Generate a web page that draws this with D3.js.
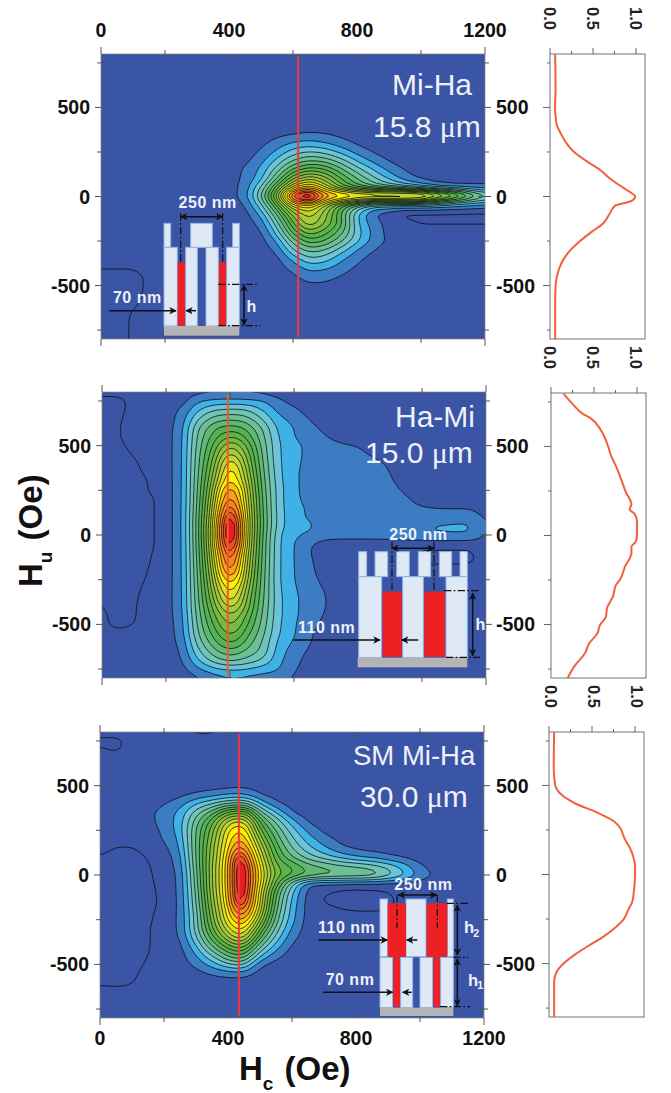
<!DOCTYPE html>
<html><head><meta charset="utf-8">
<script src="https://cdn.jsdelivr.net/npm/d3@7"></script>
<style>html,body{margin:0;padding:0;background:#fff}svg{display:block}text{font-family:"Liberation Sans",Arial,sans-serif}</style>
</head><body><svg id="c" width="671" height="1093"></svg>
<script>
// Columns: Hc = 0 to 1200 in steps of 50. Rows that stop early continue at the background level 1.
const colHc = [0,50,100,150,200,250,300,350,400,450,500,550,600,650,700,750,800,850,900,950,1000,1050,1100,1150,1200];
const rowHu = [800,750,700,650,600,550,500,450,400,350,300,250,200,150,100,50,0,-50,-100,-150,-200,-250,-300,-350,-400,-450,-500,-550,-600,-650,-700,-750,-800];
const rowHuMiHa = [800,750,700,650,600,550,500,450,400,350,300,250,200,150,100,50,25,0,-25,-50,-100,-150,-200,-250,-300,-350,-400,-450,-500,-550,-600,-650,-700,-750,-800];
const gridMiHa = [
[],[],[],[],[],
[1,1,1,1,1,1,1,1,1,1,.1],
[],[],[],
[1,1,1,1,1,1,1,1,1,1,1,1.2,1.4,1.6,1.5,1.2],
[1,1,1,1,1,1,1,1,1,1,1.2,1.9,2.6,2.9,2.5,1.9,1.3],
[1,1,1,1,1,1,1,1,1,1,1.6,2.7,4,4.6,4.2,3.2,2.1,1.4],
[1,1,1,1,1,1,1,1,1,1.2,2.1,3.8,5.6,6.6,6.2,5,3.4,2.2,1.4],
[1,1,1,1,1,1,1,1,1,1.6,2.7,5,7.8,9.3,8.7,6.8,5,3.5,2.2,1.4],
[.2,1,1,1,1,1,1,1,1,1.7,3,6.5,10.5,12.6,11,8.5,6.5,4.8,3.3,2,1.3],
[1,1,1,1,1,1,1,1,1.1,1.8,4.5,9,14,16.5,13.5,10,8,6.5,5.5,4.5,3.5,2.2,1.8,1.7,1.7],
[1,1,1,1,1,1,1,1,1.1,1.85,5,10,17.5,20.8,16,14.8,13.5,13.2,13,13,12.5,11,9,6.5,4.5],
[1,1,1,1,1,1,1,1,1.1,1.9,5.5,11,20.6,22,18,16.5,15.8,15.6,15.8,15.7,15.5,13,11,8.5,6],
[1,1,1,1,1,1,1,1,1,1.6,4.7,9.8,17,20,15,13,11.5,10.5,10.5,10.5,10,8,6.5,5,4],
[1,1,1,1,1,1,1,1,1,1.3,4,8.5,14,15.5,12,8.5,5.5,3.5,3,3,3,2.8,2.5,2.2,2],
[1,1,1,1,1,1,1,1,1,1,2.6,6.5,11,13.2,11,7.5,3.5,1.4,.9,.1,.2,.2,.2,.2,.2],
[1,1,1,1,1,1,1,1,1,1,1.7,5,9.5,12.6,10.5,8,3.5,2,1.1,.9,.4,.4,.4,.4,.4],
[1,1,1,1,1,1,1,1,1,1,1.2,3.8,8,10.3,9,7,4,2.2,1.1],
[1,1,1,1,1,1,1,1,1,1,1,2.5,6,8.2,7.5,5.7,3.7,2.1,1.3,1,1,1,.1],
[1,1,1,1,1,1,1,1,1,1,1,1.6,4.5,6,5.5,4,2.4,1.5],
[1,1,1,1,1,1,1,1,1,1,1,1.1,2.8,4.4,4,2.7,1.7,1.1],
[.6,.6,.6,1,1,1,1,1,1,1,1,1,1.8,2.9,2.7,2,1.3],
[0,0,0,.8,1,1,1,1,1,1,1,1,1.2,2,1.8,1.4],
[0,0,0,.8,1,1,1,1,1,1,1,1,1,1.3,1.3,1.1,1,1,1,1,1,1,1,.1],
[0,0,0,.9],
[0,0,.2,1],
[0,0,.6,1,1,1,1,1,1,1,1,1,1,1,1,1,1,1,1,1,1,1,1,.1],
[0,0,.7],[0,0,.7],[0,0,.7]
];
const gridHaMi = [
[1,1,1,1,1,1,1.2,1.3,1.3,1.3,1.2],
[0,0,1,1,1,1,2.4,2.7,2.8,2.7,2.6,1.7,1.1],
[0,.1,1,1,1,1.6,3.4,4.5,4.7,4.6,3.5,2.2,1.7],
[0,.3,1,1,1,1.9,4.5,6,6.3,6,4.5,2.7,2.2,1.4],
[0,.4,1,1,1,2.1,5.5,7.3,8,7.4,5.5,3.2,2.5,1.7,1.3],
[0,.4,1,1,1,2.2,5.8,8,9.5,8.3,5.9,3.4,2.5,1.9,1.5,1.2],
[0,.2,.9,1,1,2.2,6,8.7,11.5,9.5,6.2,3.5,2.8,2.2,1.8,1.6,1.5,1.1],
[0,0,.6,1,1,2.2,6.2,9.3,13,10.5,6.4,3.5,2.8,2.2,2,1.9,1.7,1.4,1.1],
[0,0,.3,1,1,2.2,6.3,9.9,14.5,11,6.6,3.6,2.7,2.2,2.1,2,1.9,1.7,1.4],
[0,0,.2,.8,1,2.2,6.4,10.5,15.3,11.7,6.8,3.7,2.6,2.2,2.1,2,2,1.8,1.5,1.1],
[0,0,0,.6,1,2.2,6.5,11.2,16,12.3,7,3.8,2.6,2.2,2.1,2,2,1.9,1.6,1.2],
[0,0,0,.6,1,2.2,6.6,11.8,17,12.8,7.2,3.9,2.6,2.2,2.1,2,2,1.9,1.7,1.4,1.1],
[0,0,0,.3,1,2.2,6.7,12.4,17.8,13.2,7.4,3.9,2.6,2.3,2.1,2,2,1.9,1.8,1.6,1.2,1.1],
[0,0,0,.3,1,2.2,6.8,12.9,19.5,13.5,7.5,3.9,2.7,2.4,2.1,1.9,1.1,1.9,1.9,1.8,1.55,1.45,1.45,1.45],
[0,0,0,.3,1,2.2,7,13.3,20.7,13.7,7.6,4,2.7,2.4,2.2,2.1,2.1,2,2,2,2,2,2,2.1,1.3],
[0,0,0,.3,1,2.2,7,13.7,21.5,13.8,7.7,3.9,2.8,2.6,2.2,2.1,2.1,2.1,2.1,2.2,2.45,2.6,2.7,2.7,1.4],
[0,0,0,.3,1,2.2,7,13.9,21.5,13.7,7.5,3.6,2.6,2.4,2.1,2,2,2,2.1,2.2,2.3,2.45,2.45,2.45,1.3],
[0,0,0,.3,1,2.2,6.9,13.7,20.6,13.5,7.4,3.5,2.5,1.6,.9,.9,.9,.9,.9,.9,.9,.9,.9,.9],
[0,0,0,.4,1,2.2,6.8,13.3,20,13.1,7.3,3.5,2.5,1.45,1,1,1,1,1,1,.3,.3,.3,.3],
[0,0,0,.5,1,2.2,6.7,12.9,19,12.7,7.2,3.5,2.5,1.6,1,1,1,1,1,1,.3,.3,.3,.3],
[0,0,0,.6,1,2.2,6.6,12.4,18,12.3,7.1,3.5,2.5,1.7],
[0,0,.1,.7,1,2.2,6.5,11.8,16,11.8,7,3.5,2.5,1.8,1.2],
[0,0,.2,.9,1,2.2,6.4,11.3,15,11.2,6.9,3.6,2.6,1.9,1.4],
[.4,0,.3,1,1,2.2,6.3,10.7,14.3,10.6,6.8,3.7,2.7,2,1.5],
[.6,0,.4,1,1,2.2,6.2,10,13,10.3,6.6,3.7,2.7,2,1.5],
[.8,0,.4,1,1,2.1,6,9.3,11.5,9.5,6.4,3.7,2.7,1.9,1.4],
[.8,.1,.5,1,1,2,5.8,8.7,10.8,8.8,6.2,3.6,2.6,1.8,1.2],
[1,.8,1,1,1,1.9,5.5,8,9.8,8,5.9,3.5,2.6,1.6],
[1,1,1,1,1,1.7,5,7.2,8.7,7.2,5.5,3.2,2.4,1.5],
[1,1,1,1,1,1.5,4.3,6.2,7.3,6.3,5.3,3,2,1.3],
[1,1,1,1,1,1.3,3.5,5,5.8,5.2,4.5,2.8,1.8,1.1],
[1,1,1,1,1,1.1,2.3,3.3,3.6,3.5,3,2.6,1.6],
[1,1,1,1,1,1,1.3,1.9,2.3,2.2,2,2,1.3]
];
// extra columns along the narrow ridge of the second panel
const haMiCol375 = [1.3,2.8,4.6,6.2,7.8,9,10.5,11.8,13,13.8,14.5,16.4,17.2,18,19.3,20,20,19.6,18.2,17.4,16.7,15.6,14.2,13.2,12,10.8,10,9.2,8.2,6.9,5.5,3.5,2.2];
const haMiCol425 = [1.3,2.8,4.7,6.2,7.8,9.3,11,12.2,13.7,14.5,15,16.8,17.4,18.2,19.5,20.3,20.3,19.8,18.2,17.4,16.8,15.8,14.5,13.5,12.2,10.9,10.2,9.4,8.4,7,5.6,3.6,2.3];
const gridSM = [
[1,1,1,1,1,1,.3,.3],
[.2,.1],
[.7,.3],
[],[],[],
[1,1,1,1,1,1,1,1,1.1,1.2,1.05],
[1,1,1,1,1,1.2,1.6,2,2.4,2.4,1.4,1.05],
[1,1,1,1,1.4,2,3.4,4.4,5.5,5.8,3.2,1.6,1.05],
[1,1,1,1.2,1.9,2.7,5,7,10,10.5,5.8,3.4,1.4,1.05],
[1,1,1,1.2,1.9,2.9,6,9,13,13.8,8,5.3,2.8,1.3,1,1,1,1,1,1,1,1,.1],
[1,1,1,1,1.7,2.9,6.5,10,14.5,15.5,9.5,6.4,3.9,2.2,1.2],
[1,1,1,1,1.5,2.6,6.6,10.5,15,16.5,11,7.2,4.7,3,1.9,1.2],
[1,.4,.4,1,1.2,2.3,6.6,11,15.3,18,12.5,8,5.5,3.8,2.7,1.7,1.3,1.1],
[.4,0,0,.6,1,2,6.5,11.2,15.6,20,13.5,8.7,6.5,5,4,3.2,2.5,2.2,1.7,1.3],
[0,0,0,.4,1,1.7,6.3,11.5,16,21.3,14.5,9.5,8.5,7,6.4,5.8,5.5,5,4.2,3,1.6,1.1],
[0,0,0,.3,1,1.5,6,11.5,16,21.5,14.8,10,8.6,7.5,7,6.8,6.7,6.4,5.2,3.8,2.1,1.3],
[0,0,0,.2,.95,1.5,5.8,11.5,16,21.5,14.5,9,4.5,1.4,1.2,1.1],
[0,0,0,.1,.9,1.5,5.5,11.3,15.8,21.3,13.8,7.5,3.5,1.1,.55,.3,.2,.3,.4],
[0,0,0,.1,.8,1.5,5.3,11,15.5,20.5,13.5,7,3.1,1,.4,.1,.1,.1,.1],
[0,0,0,.2,.9,1.5,5,10.5,15,19,13,6.4,2.9,1,1,.6,.45,.45,.5],
[0,0,0,.3,1,1.5,4.8,10,14.6,17,11.5,5.8,2.7],
[0,0,0,.4,1,1.5,4.8,9.3,13.3,15,9.5,5,2.2],
[0,0,0,.4,1,1.3,4.3,8,11.5,13,7.5,4,1.7],
[0,0,0,.4,1,1.1,3.2,6.5,9,10,5.5,2.9,1.2],
[0,0,0,.5,1,1,2.4,4.5,6.8,7.5,3.5,1.8],
[0,0,0,.7,1,1,1.7,2.9,4.3,4.8,1.6,1.05],
[0,0,.2,1,1,1,1.1,1.6,1.9,2],
[.2,.2,.4],
[1,.8,.8],
[],[],[]
];
// extra columns along the narrow ridge of the third panel
const smCol425 = [1,1,1,1,1,1,1.2,2.5,5.8,10.2,13.8,15.6,16.5,18,20.6,21.2,21.2,21.2,21,20.6,18.5,16.5,14.8,13,10,7.5,4.8,2,1,1,1,1,1];
const smCol475 = [1,1,1,1,1,1,1.1,2,4.8,8.5,11.5,13,14.2,15.3,16.5,17.5,18,18,17.5,17,16,14.5,12.5,10.5,7.8,5.5,3,1.4,1,1,1,1,1];

const levels = [.5,1.5,2.5,3.5,4.5,5.5,6.5,7.5,8.5,9.5,10.5,11.5,12.5,13.5,14.5,15.5,16.5,17.5,18.5,19.2,20];
const levelColors = ["#3a55a5","#3b7cc2","#3fb1e6","#6bc4d8","#6fc4b8","#6dbf95","#60b972","#53b254","#5db348","#76ba43","#8fc23f","#a6cb3a","#bed534","#e3e021","#fff200","#fdc010","#f9a01b","#f68420","#f36a21","#f04e23","#ed1c24"];
const cutHc = [616,393,434];
const cutColor = ["#ee3a3a","#f0582e","#ee3a3a"];

const sideHu1 = [800,600,500,450,400,350,300,250,200,150,100,50,25,0,-25,-50,-100,-150,-200,-250,-300,-350,-400,-450,-500,-600,-800];
const sideI1 = [.06,.065,.058,.065,.08,.13,.19,.28,.42,.58,.70,.85,.93,.99,.95,.76,.69,.62,.48,.35,.24,.16,.11,.08,.065,.06,.06];
const sideHu2 = [795,739,683,655,599,500,459,384,310,244,175,146,123,77,0,-35,-63,-100,-175,-250,-278,-343,-409,-455,-502,-549,-605,-661,-735,-800];
const sideI2 = [.146,.25,.37,.47,.57,.665,.69,.76,.82,.87,.935,.915,.97,1,1,.985,.935,.935,.86,.80,.755,.72,.65,.64,.57,.54,.445,.395,.27,.195];
const sideHu3 = [800,600,500,450,400,350,300,270,200,150,100,50,0,-100,-150,-200,-250,-300,-350,-400,-450,-500,-550,-600,-800];
const sideI3 = [.06,.055,.073,.14,.30,.55,.75,.815,.88,.94,.98,1,1,.985,.97,.92,.87,.765,.63,.46,.30,.17,.085,.06,.06];

const hcTicks = [0,200,400,600,800,1000,1200];
const hcLabels = [0,400,800,1200];
const huTicks = [-750,-500,-250,0,250,500,750];
const huLabels = [-500,0,500];
const sideTicks = [0,.25,.5,.75,1];
const sideLabels = ["0.0","0.5","1.0"];

const panels = [
 {grid:gridMiHa,rows:rowHuMiHa,extra:[],x:[101,485],y:[54,339],sx:[550,636,645],hu:sideHu1,i:sideI1,sy:[54,339]},
 {grid:gridHaMi,rows:rowHu,extra:[[375,haMiCol375],[425,haMiCol425]],x:[102,486],y:[392,678],sx:[551,637,646],hu:sideHu2,i:sideI2,sy:[393,678]},
 {grid:gridSM,rows:rowHu,extra:[[425,smCol425],[475,smCol475]],x:[100,484],y:[732,1018],sx:[549,635,644],hu:sideHu3,i:sideI3,sy:[732,1017]}
];
const svg = d3.select("#c");
const defs = svg.append("defs");
const TICK="#555";
const STEP=12.5, mx=97, my=129; // rendering mesh for the contour generator

// value of the read-off table at any (Hc, Hu), between its rows and columns
function sampler(p){
  const cols=colHc.concat(p.extra.map(e=>e[0])).sort(d3.ascending);
  const rowsAsc=p.rows.slice().reverse();
  const val=(r,c)=>{
    const e=p.extra.find(e=>e[0]===c); if(e) return e[1][r];
    const row=p.grid[r], i=colHc.indexOf(c); return i<row.length?row[i]:1;
  };
  return (hc,hu)=>{
    let ci=Math.min(d3.bisectRight(cols,hc),cols.length-1), ri=Math.min(d3.bisectRight(rowsAsc,hu),rowsAsc.length-1);
    const c0=cols[ci-1],c1=cols[ci],r0=rowsAsc[ri-1],r1=rowsAsc[ri];
    const tx=(hc-c0)/(c1-c0),ty=(hu-r0)/(r1-r0);
    const R0=p.rows.indexOf(r0),R1=p.rows.indexOf(r1);
    const a=val(R0,c0)*(1-tx)+val(R0,c1)*tx,b=val(R1,c0)*(1-tx)+val(R1,c1)*tx;
    return a*(1-ty)+b*ty;
  };
}

panels.forEach((p,k)=>{
  const X=d3.scaleLinear().domain([0,1200]).range(p.x), Y=d3.scaleLinear().domain([800,-800]).range(p.y);
  const gx=d3.scaleLinear().domain([.5,mx-.5]).range([0,1200]), gy=d3.scaleLinear().domain([.5,my-.5]).range([800,-800]);
  const f=sampler(p), flat=new Float64Array(mx*my);
  for(let j=0;j<my;j++)for(let i=0;i<mx;i++)flat[j*mx+i]=f(i*STEP,800-j*STEP);
  d3.blur2({data:flat,width:mx,height:my},.8);
  const path=d3.geoPath(d3.geoTransform({point(a,b){this.stream.point(X(gx(a)),Y(gy(b)))}}));
  defs.append("clipPath").attr("id","cp"+k).append("rect").attr("x",p.x[0]).attr("y",p.y[0]).attr("width",p.x[1]-p.x[0]).attr("height",p.y[1]-p.y[0]);
  const g=svg.append("g");
  g.append("rect").attr("x",p.x[0]).attr("y",p.y[0]).attr("width",p.x[1]-p.x[0]).attr("height",p.y[1]-p.y[0]).attr("fill",levelColors[0]);
  const cg=g.append("g").attr("clip-path",`url(#cp${k})`);
  cg.selectAll("path").data(d3.contours().size([mx,my]).thresholds(levels)(Array.from(flat))).join("path")
    .attr("d",path).attr("fill",(d,i)=>levelColors[i]).attr("stroke","#0a0a0a").attr("stroke-width",.75).attr("stroke-linejoin","round");
  g.append("rect").attr("x",p.x[0]).attr("y",p.y[0]).attr("width",p.x[1]-p.x[0]).attr("height",p.y[1]-p.y[0]).attr("fill","none").attr("stroke","#8a8078").attr("stroke-width",.7);
  const tl=(x1,y1,x2,y2)=>g.append("line").attr("x1",x1).attr("y1",y1).attr("x2",x2).attr("y2",y2).attr("stroke",TICK).attr("stroke-width",1);
  hcTicks.forEach(v=>{const x=X(v), end=v===0||v===1200, a=hcLabels.includes(v)&&!end;
    [[p.y[0],-1],[p.y[1],1]].forEach(([y,s])=>{ if(end) tl(x,y,x,y+s*7); else if(a) tl(x,y,x,y-s*7); else tl(x,y-4,x,y+4); });
  });
  huTicks.forEach(v=>{const y=Y(v), maj=huLabels.includes(v);
    tl(p.x[0]-(maj?6:4),y,p.x[0]+(maj?7:4),y); tl(p.x[1]-(maj?7:4),y,p.x[1]+(maj?6:4),y);
  });
  const lab=g.append("g").attr("font-weight","bold").attr("font-size",19.5).attr("fill","#111");
  huLabels.forEach(v=>{
    lab.append("text").attr("x",p.x[0]-11).attr("y",Y(v)+7).attr("text-anchor","end").text(v);
    lab.append("text").attr("x",496).attr("y",Y(v)+7).text(v);
  });
  if(k===0) hcLabels.forEach(v=>lab.append("text").attr("x",X(v)).attr("y",37).attr("text-anchor","middle").text(v));
  if(k===2) hcLabels.forEach(v=>lab.append("text").attr("x",X(v)).attr("y",1045).attr("text-anchor","middle").text(v));
  const SX=d3.scaleLinear().domain([0,1]).range([p.sx[0],p.sx[1]]), SY=d3.scaleLinear().domain([800,-800]).range(p.sy);
  const sl=(x1,y1,x2,y2)=>g.append("line").attr("x1",x1).attr("y1",y1).attr("x2",x2).attr("y2",y2).attr("stroke","#666").attr("stroke-width",1);
  g.append("rect").attr("x",p.sx[0]).attr("y",p.sy[0]).attr("width",p.sx[2]-p.sx[0]).attr("height",p.sy[1]-p.sy[0]).attr("fill","#fff").attr("stroke","#6e7478").attr("stroke-width",1);
  sideTicks.forEach((v,i)=>sl(SX(v),p.sy[0],SX(v),p.sy[0]-(i%2?3:6)));
  huTicks.forEach(v=>{const y=SY(v);sl(p.sx[0],y,p.sx[0]-(huLabels.includes(v)?7:3),y)});
  const line=d3.line().x(d=>SX(d[1])).y(d=>SY(d[0])).curve(d3.curveMonotoneY);
  g.append("path").attr("d",line(p.hu.map((h,i)=>[h,p.i[i]]))).attr("fill","none").attr("stroke","#f2603a").attr("stroke-width",2);
  const rot=(v,y)=>g.append("text").attr("transform",`translate(${SX(+v)-6},${y}) rotate(90)`).attr("font-size",16.5).attr("font-weight","bold").attr("fill","#222").text(v);
  if(k===0) sideLabels.forEach(v=>rot(v,7));
  if(k<2) sideLabels.forEach(v=>rot(v,p.sy[1]+7));
  cg.append("line").attr("x1",X(cutHc[k])).attr("x2",X(cutHc[k])).attr("y1",p.y[0]+2).attr("y2",p.y[1]-2).attr("stroke",cutColor[k]).attr("stroke-width",2);
});

const ink="#eef0fa";
function ann(t,x,y,size){svg.append("text").attr("x",x).attr("y",y).attr("font-size",size).attr("fill",ink).text(t)}
function annMu(t,x,y){const e=svg.append("text").attr("x",x).attr("y",y).attr("font-size",30).attr("fill",ink);e.append("tspan").text(t+" ");e.append("tspan").attr("font-family","Liberation Serif").text("\u03bc");e.append("tspan").text("m")}
ann("Mi-Ha",392,95,30);annMu("15.8",373,137);
ann("Ha-Mi",395,427,30);annMu("15.0",365,463);
ann("SM Mi-Ha",353,765,27.5);annMu("30.0",360,807);

const xt=svg.append("text").attr("x",239).attr("y",1080).attr("font-size",33).attr("font-weight","bold").attr("fill","#111");
xt.append("tspan").text("H");xt.append("tspan").attr("font-size",19).attr("dy",10).text("c");xt.append("tspan").attr("dy",-10).attr("dx",2).text(" (Oe)");
const yt=svg.append("text").attr("transform","translate(42,587) rotate(-90)").attr("font-size",33).attr("font-weight","bold").attr("fill","#111");
yt.append("tspan").text("H");yt.append("tspan").attr("font-size",19).attr("dy",10).text("u");yt.append("tspan").attr("dy",-10).attr("dx",2).text(" (Oe)");

function inset(ox,oy,build){
  const g=svg.append("g").attr("transform",`translate(${ox},${oy}) scale(${1/3})`);
  const R=(a,b,c,d,f,st)=>g.append("rect").attr("x",a).attr("y",c).attr("width",b-a).attr("height",d-c).attr("fill",f).attr("stroke",st||"none").attr("stroke-width",st?3:0);
  const light=(a,b,c,d)=>R(a,b,c,d,"#dfe8f5","#8fb6e2");
  const red=(a,b,c,d)=>R(a,b,c,d,"#ee2024");
  const grey=(a,b,c,d)=>R(a,b,c,d,"#b4b4b4");
  const dash=(a,c,b,d)=>g.append("line").attr("x1",a).attr("y1",c).attr("x2",b).attr("y2",d).attr("stroke","#111").attr("stroke-width",3.5).attr("stroke-dasharray","22 7 5 7");
  const arr=(a,c,b,d,both)=>{const l=g.append("line").attr("x1",a).attr("y1",c).attr("x2",b).attr("y2",d).attr("stroke","#111").attr("stroke-width",4.5).attr("marker-end","url(#ah3)");if(both)l.attr("marker-start","url(#ah3)")};
  const T=(t,x,y,s,anchor)=>g.append("text").attr("x",x).attr("y",y).attr("font-size",s||48).attr("font-weight","bold").attr("fill",ink).attr("text-anchor",anchor||"middle").attr("letter-spacing",1.5).text(t);
  build({light,red,grey,dash,arr,T,g});
}
const mk3=defs.append("marker").attr("id","ah3").attr("viewBox","0 0 10 10").attr("refX",9).attr("refY",5).attr("markerWidth",26).attr("markerHeight",22).attr("orient","auto-start-reverse").attr("markerUnits","userSpaceOnUse");
mk3.append("path").attr("d","M0,0L10,5L0,10L2.5,5Z").attr("fill","#111");

inset(90,40,({light,red,grey,dash,arr,T})=>{
  [[222,242],[302,367],[428,448]].forEach(([a,b])=>light(a,b,550,622));
  [[222,262],[287,322],[348,385],[410,448]].forEach(([a,b])=>light(a,b,622,858));
  red(263,285,667,857);red(387,408,667,857);grey(222,448,858,887);
  dash(272,520,272,667);dash(398,520,398,667);dash(385,733,500,733);dash(385,857,512,857);
  arr(272,530,398,530,true);arr(462,735,462,855,true);arr(58,812,258,812);arr(318,812,288,812);
  T("250 nm",353,505);T("70 nm",142,790);T("h",485,817);
});
inset(90,385,({light,red,grey,dash,arr,T})=>{
  [[806,830],[855,893],[920,958],[985,1022],[1048,1085],[1110,1132]].forEach(([a,b])=>light(a,b,500,575));
  [[806,875],[938,1000],[1068,1132]].forEach(([a,b])=>light(a,b,575,818));
  red(878,935,620,815);red(1003,1065,620,815);grey(803,1132,818,847);
  dash(906,470,906,620);dash(1032,470,1032,620);dash(1062,617,1170,617);dash(1068,817,1170,817);
  arr(906,490,1032,490,true);arr(1148,625,1148,812,true);arr(610,765,870,765);arr(985,765,935,765);
  T("250 nm",985,465);T("110 nm",710,745);T("h",1172,735);
});
inset(90,725,({light,red,grey,dash,arr,T})=>{
  [[870,893],[948,1008],[1072,1090]].forEach(([a,b])=>light(a,b,522,695));
  [[870,908],[932,968],[990,1028],[1052,1090]].forEach(([a,b])=>light(a,b,697,848));
  red(893,948,535,695);red(1010,1072,535,695);red(910,930,697,845);red(1030,1050,697,845);grey(870,1090,848,873);
  dash(921,510,921,610);dash(1042,510,1042,610);dash(1070,535,1135,535);dash(1090,697,1135,697);dash(1050,845,1140,845);
  arr(925,510,1040,510,true);arr(1102,540,1102,690,true);arr(1102,702,1102,842,true);
  arr(685,645,892,645);arr(982,645,950,645);arr(700,802,908,802);arr(965,802,938,802);
  T("250 nm",1000,495);T("110 nm",770,625);T("70 nm",780,780);
  T("h",1122,625,50,"start");T("2",1150,635,32,"start");T("h",1134,783,50,"start");T("1",1162,793,32,"start");
});
</script></body></html>
